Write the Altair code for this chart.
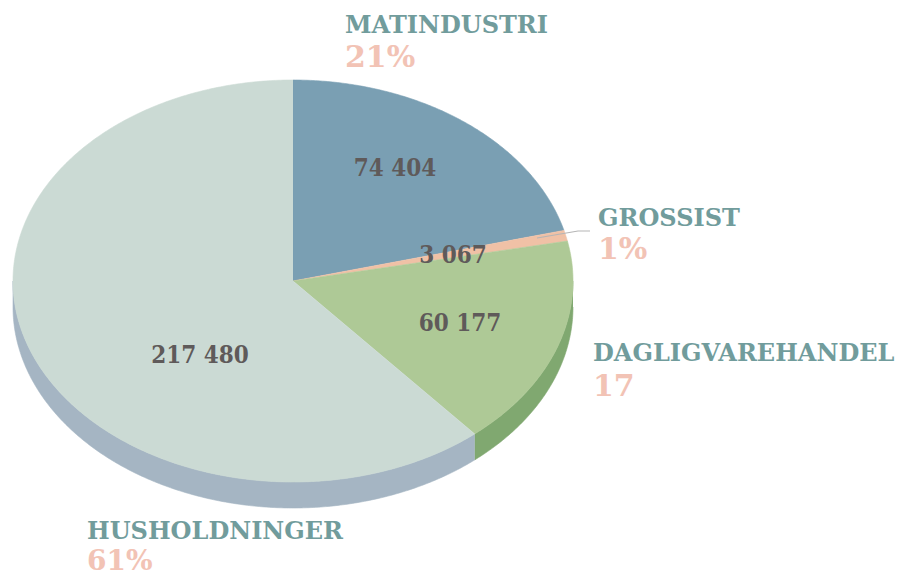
import numpy as np
import pandas as pd
import altair as alt

# ---- data ----
categories = ["MATINDUSTRI", "GROSSIST", "DAGLIGVAREHANDEL", "HUSHOLDNINGER"]
values = [74404, 3067, 60177, 217480]
value_labels = ["74 404", "3 067", "60 177", "217 480"]
pct_labels = ["21%", "1%", "17", "61%"]

# ---- styles / layout ----
top_colors = ["#7a9fb3", "#f0c1a6", "#aec996", "#cbdad4"]
side_colors = ["#6a8ea3", "#d9a98f", "#80a870", "#a5b5c3"]
CX, CY, RX, RY, DEPTH = 293, 281, 280, 201, 26
value_pos = [(395, 176), (453, 263), (460, 331), (200, 363)]
cat_pos = [(345, 33), (598, 226), (593, 361), (87, 539)]
pct_gap = [34, 33, 35, 31]
pct_sizes = [30, 30, 30, 28]

W, H = 899, 570
xs = alt.Scale(domain=[8, 8 + W], nice=False, zero=False)
ys = alt.Scale(domain=[8, 8 + H], nice=False, zero=False, reverse=True)

fill_domain = categories + ["side " + c for c in categories]
fill_range = top_colors + side_colors
fscale = alt.Scale(domain=fill_domain, range=fill_range)

total = sum(values)
bounds = np.concatenate([[0], np.cumsum(values)]) / total * 360.0


def ept(t_deg, dy=0.0):
    t = np.radians(t_deg)
    return CX + RX * np.sin(t), CY - RY * np.cos(t) + dy


rows_top, rows_side = [], []
for k, cat in enumerate(categories):
    a, b = bounds[k], bounds[k + 1]
    n = max(3, int((b - a) / 0.5))
    ts = np.linspace(a, b, n)
    i = 0
    rows_top.append(dict(key=cat, i=i, px=CX, py=CY)); i += 1
    for t in ts:
        x, y = ept(t)
        rows_top.append(dict(key=cat, i=i, px=x, py=y)); i += 1
    # visible side wall: part of arc between 90 and 270 degrees
    sa, sb = max(a, 90.0), min(b, 270.0)
    if sb > sa:
        ss = np.linspace(sa, sb, max(3, int((sb - sa) / 0.5)))
        j = 0
        for t in ss:
            x, y = ept(t)
            rows_side.append(dict(key="side " + cat, i=j, px=x, py=y)); j += 1
        for t in ss[::-1]:
            x, y = ept(t, DEPTH)
            rows_side.append(dict(key="side " + cat, i=j, px=x, py=y)); j += 1

top_df = pd.DataFrame(rows_top)
side_df = pd.DataFrame(rows_side)


def poly_layer(df):
    return alt.Chart(df).mark_line(filled=True, strokeWidth=0.6).encode(
        x=alt.X("px:Q", scale=xs, axis=None),
        y=alt.Y("py:Q", scale=ys, axis=None),
        fill=alt.Fill("key:N", scale=fscale, legend=None),
        stroke=alt.Stroke("key:N", scale=fscale, legend=None),
        order=alt.Order("i:Q"),
    )


sides = poly_layer(side_df)
tops = poly_layer(top_df)

# leader line for GROSSIST
lead_df = pd.DataFrame({"i": [0, 1, 2], "px": [537, 578, 590], "py": [238, 231, 231]})
leader = alt.Chart(lead_df).mark_line(color="#b5b5b5", strokeWidth=1.2).encode(
    x=alt.X("px:Q", scale=xs, axis=None),
    y=alt.Y("py:Q", scale=ys, axis=None),
    order=alt.Order("i:Q"),
)

val_df = pd.DataFrame({
    "label": value_labels,
    "px": [p[0] for p in value_pos],
    "py": [p[1] for p in value_pos],
})
vals = alt.Chart(val_df).mark_text(
    font="DejaVu Serif Condensed", fontWeight="bold", fontSize=24,
    color="#5f5a5a", align="center", baseline="alphabetic",
).encode(
    x=alt.X("px:Q", scale=xs, axis=None),
    y=alt.Y("py:Q", scale=ys, axis=None),
    text="label:N",
)

cat_df = pd.DataFrame({
    "label": categories,
    "px": [p[0] for p in cat_pos],
    "py": [p[1] for p in cat_pos],
})
cats = alt.Chart(cat_df).mark_text(
    font="DejaVu Serif", fontWeight="bold", fontSize=24,
    color="#719c9c", align="left", baseline="alphabetic",
).encode(
    x=alt.X("px:Q", scale=xs, axis=None),
    y=alt.Y("py:Q", scale=ys, axis=None),
    text="label:N",
)

pct_df = pd.DataFrame({
    "label": pct_labels,
    "px": [p[0] for p in cat_pos],
    "py": [p[1] + g for p, g in zip(cat_pos, pct_gap)],
    "size": pct_sizes,
})
pcts = alt.Chart(pct_df).mark_text(
    font="DejaVu Serif", fontWeight="bold",
    color="#f2c3b5", align="left", baseline="alphabetic",
).encode(
    x=alt.X("px:Q", scale=xs, axis=None),
    y=alt.Y("py:Q", scale=ys, axis=None),
    size=alt.Size("size:Q", scale=None, legend=None),
    text="label:N",
)

chart = alt.layer(sides, tops, leader, vals, cats, pcts).properties(
    width=W, height=H, padding=0, autosize=alt.AutoSizeParams(type="none"),
    background="white",
).configure_view(stroke=None)

chart.save("out.html", embed_options={"renderer": "svg", "actions": False})
